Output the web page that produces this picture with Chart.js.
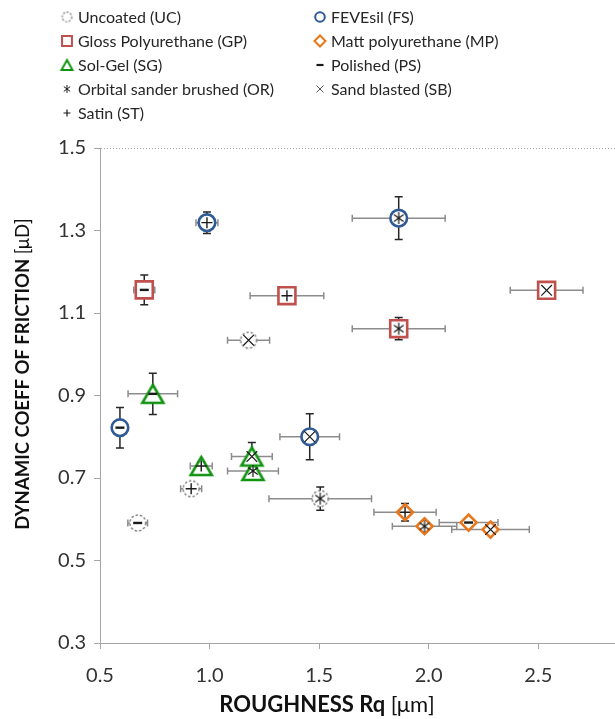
<!DOCTYPE html>
<html>
<head>
<meta charset="utf-8">
<title>Dynamic coefficient of friction vs roughness</title>
<script src="https://cdn.jsdelivr.net/npm/chart.js@4.4.1/dist/chart.umd.min.js"></script>
<style>
  html, body { margin: 0; padding: 0; background: #ffffff; }
  #wrap { width: 615px; height: 719px; }
</style>
</head>
<body>
<div id="wrap"><canvas id="chart" width="615" height="719"></canvas></div>
<script>
// Surface finish of each entry in the coating arrays below
const finishCodes = ['PS', 'ST', 'OR', 'SB'];

// Uncoated (UC)
const ucRq    = [0.672, 0.916, 1.505, 1.178];
const ucMu    = [0.591, 0.674, 0.650, 1.034];
const ucRqErr = [0.045, 0.048, 0.234, 0.096];
const ucMuErr = [0.012, 0.010, 0.028, 0.008];

// FEVEsil (FS)
const fsRq    = [0.591, 0.988, 1.863, 1.457];
const fsMu    = [0.822, 1.319, 1.330, 0.800];
const fsRqErr = [0.020, 0.050, 0.212, 0.136];
const fsMuErr = [0.049, 0.026, 0.052, 0.056];

// Gloss polyurethane (GP)
const gpRq    = [0.702, 1.353, 1.863, 2.538];
const gpMu    = [1.156, 1.142, 1.062, 1.155];
const gpRqErr = [0.048, 0.168, 0.212, 0.166];
const gpMuErr = [0.036, 0.005, 0.027, 0.005];

// Matt polyurethane (MP)
const mpRq    = [2.182, 1.892, 1.981, 2.282];
const mpMu    = [0.592, 0.617, 0.583, 0.575];
const mpRqErr = [0.134, 0.142, 0.147, 0.177];
const mpMuErr = [0.008, 0.021, 0.010, 0.008];

// Sol-gel (SG)
const sgRq    = [0.741, 0.962, 1.198, 1.193];
const sgMu    = [0.904, 0.729, 0.717, 0.752];
const sgRqErr = [0.113, 0.050, 0.116, 0.093];
const sgMuErr = [0.050, 0.010, 0.010, 0.034];

const xTickValues = [0.5, 1.0, 1.5, 2.0, 2.5];
const yTickValues = [0.3, 0.5, 0.7, 0.9, 1.1, 1.3, 1.5];

const FONT = 'Lato, "Open Sans", "Liberation Sans", sans-serif';
const AXIS_GRAY = '#a6a6a6';
const TEXT = '#262626';

// ---- custom marker images ----
function makeCanvas(w, h, draw) {
  const c = document.createElement('canvas');
  c.width = w; c.height = h;
  draw(c.getContext('2d'), w, h);
  return c;
}
function triangleImg(w, lw, color) {
  const h = Math.round(w * 0.88);
  const pad = Math.ceil(lw * 1.6);
  return makeCanvas(w + 2 * pad, h + 2 * pad, (g, cw) => {
    g.beginPath();
    g.moveTo(cw / 2, pad);
    g.lineTo(cw / 2 + w / 2, pad + h);
    g.lineTo(cw / 2 - w / 2, pad + h);
    g.closePath();
    g.fillStyle = '#ffffff'; g.fill();
    g.lineWidth = lw; g.strokeStyle = color; g.stroke();
  });
}
function dashedCircleImg(r, lw, color, dash) {
  const s = Math.ceil(2 * r + lw + 2);
  return makeCanvas(s, s, g => {
    g.beginPath();
    g.arc(s / 2, s / 2, r, 0, Math.PI * 2);
    g.fillStyle = '#ffffff'; g.fill();
    g.setLineDash(dash);
    g.lineWidth = lw; g.strokeStyle = color; g.stroke();
  });
}
function asteriskImg(h, lw) {
  const s = Math.ceil(h + 2);
  return makeCanvas(s, s, g => {
    const c = s / 2, r = h / 2;
    const dx = r * 0.8, dy = r * 0.6;
    g.strokeStyle = '#1a1a1a'; g.lineWidth = lw;
    g.beginPath();
    g.moveTo(c, c - r); g.lineTo(c, c + r);
    g.moveTo(c - dx, c - dy); g.lineTo(c + dx, c + dy);
    g.moveTo(c + dx, c - dy); g.lineTo(c - dx, c + dy);
    g.stroke();
  });
}

const COLORS = {
  UC: '#7a7a7a',
  FS: '#2f5a94',
  GP: '#c0504d',
  MP: '#e8761b',
  SG: '#129412'
};

const ucMarker = dashedCircleImg(8, 1.4, COLORS.UC, [2.4, 2]);
const sgMarker = triangleImg(21, 2.6, COLORS.SG);
const orMarker = asteriskImg(12, 1.2);

function pointsOf(rq, mu, rqErr, muErr) {
  return rq.map((x, i) => ({ x: x, y: mu[i], xErr: rqErr[i], yErr: muErr[i], finish: finishCodes[i] }));
}

const coatingDatasets = [
  { label: 'Uncoated (UC)', data: pointsOf(ucRq, ucMu, ucRqErr, ucMuErr),
    pointStyle: ucMarker, pointRadius: 8, pointBorderWidth: 0,
    pointBackgroundColor: '#fff', pointBorderColor: COLORS.UC },
  { label: 'FEVEsil (FS)', data: pointsOf(fsRq, fsMu, fsRqErr, fsMuErr),
    pointStyle: 'circle', pointRadius: 8.3, pointBorderWidth: 2.6,
    pointBackgroundColor: '#fff', pointBorderColor: COLORS.FS },
  { label: 'Gloss Polyurethane (GP)', data: pointsOf(gpRq, gpMu, gpRqErr, gpMuErr),
    pointStyle: 'rect', pointRadius: 12, pointBorderWidth: 2.6,
    pointBackgroundColor: '#fff', pointBorderColor: COLORS.GP },
  { label: 'Matt polyurethane (MP)', data: pointsOf(mpRq, mpMu, mpRqErr, mpMuErr),
    pointStyle: 'rectRot', pointRadius: 8, pointBorderWidth: 2.6,
    pointBackgroundColor: '#fff', pointBorderColor: COLORS.MP },
  { label: 'Sol-Gel (SG)', data: pointsOf(sgRq, sgMu, sgRqErr, sgMuErr),
    pointStyle: sgMarker, pointRadius: 10, pointBorderWidth: 0,
    pointBackgroundColor: '#fff', pointBorderColor: COLORS.SG }
].map(ds => Object.assign(ds, { errorBars: true, order: 2, showLine: false }));

// Finish symbols are drawn on top of every coating marker
const finishStyles = {
  PS: { label: 'Polished (PS)', pointStyle: 'line', pointRadius: 4.5, pointBorderWidth: 2.4 },
  ST: { label: 'Satin (ST)', pointStyle: 'cross', pointRadius: 5.5, pointBorderWidth: 1.4 },
  OR: { label: 'Orbital sander brushed (OR)', pointStyle: orMarker, pointRadius: 6, pointBorderWidth: 0 },
  SB: { label: 'Sand blasted (SB)', pointStyle: 'crossRot', pointRadius: 7.5, pointBorderWidth: 1.2 }
};
const coatingSeries = [
  [ucRq, ucMu], [fsRq, fsMu], [gpRq, gpMu], [mpRq, mpMu], [sgRq, sgMu]
];
const finishDatasets = finishCodes.map((code, i) => Object.assign({
  data: coatingSeries.map(([rq, mu]) => ({ x: rq[i], y: mu[i] })),
  pointBorderColor: '#1a1a1a', pointBackgroundColor: '#1a1a1a',
  order: 1, showLine: false
}, finishStyles[code]));

// ---- plugins ----
// The plot runs to the right edge of the canvas
const fullWidthPlugin = {
  id: 'fullWidth',
  afterLayout(chart) {
    const x = chart.scales.x;
    const right = chart.width;
    x.right = right;
    x.width = right - x.left;
    chart.chartArea.right = right;
    chart.chartArea.width = right - chart.chartArea.left;
    x.configure();
  }
};

const topGridPlugin = {
  id: 'topGrid',
  beforeDatasetsDraw(chart) {
    const { ctx, chartArea, scales } = chart;
    const yp = scales.y.getPixelForValue(1.5);
    ctx.save();
    ctx.strokeStyle = AXIS_GRAY; ctx.lineWidth = 1;
    ctx.setLineDash([1, 2]);
    ctx.beginPath();
    ctx.moveTo(chartArea.left + 1, yp + 0.5);
    ctx.lineTo(chartArea.right, yp + 0.5);
    ctx.stroke();
    ctx.restore();
  }
};

const errorBarPlugin = {
  id: 'errorBars',
  beforeDatasetsDraw(chart) {
    const { ctx, scales: { x, y } } = chart;
    ctx.save();
    chart.data.datasets.forEach((ds, di) => {
      if (!ds.errorBars || !chart.isDatasetVisible(di)) return;
      ds.data.forEach(p => {
        const px = x.getPixelForValue(p.x), py = y.getPixelForValue(p.y);
        // roughness spread
        const x0 = x.getPixelForValue(p.x - p.xErr), x1 = x.getPixelForValue(p.x + p.xErr);
        ctx.strokeStyle = '#8c8c8c'; ctx.lineWidth = 1.5;
        ctx.beginPath();
        ctx.moveTo(x0, py); ctx.lineTo(x1, py);
        ctx.moveTo(x0, py - 3.5); ctx.lineTo(x0, py + 3.5);
        ctx.moveTo(x1, py - 3.5); ctx.lineTo(x1, py + 3.5);
        ctx.stroke();
        // friction spread
        const y0 = y.getPixelForValue(p.y - p.yErr), y1 = y.getPixelForValue(p.y + p.yErr);
        ctx.strokeStyle = '#262626'; ctx.lineWidth = 1.5;
        ctx.beginPath();
        ctx.moveTo(px, y0); ctx.lineTo(px, y1);
        ctx.moveTo(px - 4, y0); ctx.lineTo(px + 4, y0);
        ctx.moveTo(px - 4, y1); ctx.lineTo(px + 4, y1);
        ctx.stroke();
      });
    });
    ctx.restore();
  }
};

function drawMixed(ctx, parts, cx, cy) {
  let total = 0;
  parts.forEach(p => { ctx.font = p.font; p.w = ctx.measureText(p.text).width; total += p.w; });
  let x = cx - total / 2;
  parts.forEach(p => { ctx.font = p.font; ctx.fillText(p.text, x, cy); x += p.w; });
}

const axisTitlePlugin = {
  id: 'axisTitles',
  afterDraw(chart) {
    const { ctx } = chart;
    ctx.save();
    ctx.fillStyle = '#111111';
    ctx.textBaseline = 'middle';
    ctx.textAlign = 'left';
    drawMixed(ctx, [
      { text: 'ROUGHNESS Rq ', font: 'bold 22px ' + FONT },
      { text: '[\u03bcm]', font: '22px ' + FONT }
    ], 327, 705);
    ctx.translate(23, 374);
    ctx.rotate(-Math.PI / 2);
    drawMixed(ctx, [
      { text: 'DYNAMIC COEFF OF FRICTION ', font: 'bold 18.5px ' + FONT },
      { text: '[\u03bcD]', font: '18.5px ' + FONT }
    ], 0, 0);
    ctx.restore();
  }
};

const legendEntries = [
  { text: 'Uncoated (UC)', col: 0, row: 0, marker: { pointStyle: dashedCircleImg(4.8, 1.2, COLORS.UC, [2, 1.6]), radius: 5, borderWidth: 0 }, color: COLORS.UC },
  { text: 'FEVEsil (FS)', col: 1, row: 0, marker: { pointStyle: 'circle', radius: 4.8, borderWidth: 2 }, color: COLORS.FS },
  { text: 'Gloss Polyurethane (GP)', col: 0, row: 1, marker: { pointStyle: 'rect', radius: 7, borderWidth: 2 }, color: COLORS.GP },
  { text: 'Matt polyurethane (MP)', col: 1, row: 1, marker: { pointStyle: 'rectRot', radius: 5.5, borderWidth: 2 }, color: COLORS.MP },
  { text: 'Sol-Gel (SG)', col: 0, row: 2, marker: { pointStyle: triangleImg(11, 2, COLORS.SG), radius: 6, borderWidth: 0 }, color: COLORS.SG },
  { text: 'Polished (PS)', col: 1, row: 2, marker: { pointStyle: 'line', radius: 3.5, borderWidth: 2.2 }, color: '#1a1a1a' },
  { text: 'Orbital sander brushed (OR)', col: 0, row: 3, marker: { pointStyle: asteriskImg(8, 1), radius: 5, borderWidth: 0 }, color: '#1a1a1a' },
  { text: 'Sand blasted (SB)', col: 1, row: 3, marker: { pointStyle: 'crossRot', radius: 5, borderWidth: 1 }, color: '#555555' },
  { text: 'Satin (ST)', col: 0, row: 4, marker: { pointStyle: 'cross', radius: 3.5, borderWidth: 1.2 }, color: '#1a1a1a' }
];
const legendCols = [67, 320];
const legendRows = [17, 41, 65, 89, 113];

const customLegendPlugin = {
  id: 'customLegend',
  afterDraw(chart) {
    const { ctx } = chart;
    ctx.save();
    legendEntries.forEach(e => {
      const mx = legendCols[e.col], my = legendRows[e.row];
      ctx.fillStyle = '#ffffff';
      ctx.strokeStyle = e.color;
      ctx.lineWidth = e.marker.borderWidth;
      Chart.helpers.drawPoint(ctx, { pointStyle: e.marker.pointStyle, radius: e.marker.radius, rotation: 0, borderWidth: e.marker.borderWidth }, mx, my);
      ctx.fillStyle = TEXT;
      ctx.font = '16px ' + FONT;
      ctx.textAlign = 'left';
      ctx.textBaseline = 'middle';
      ctx.fillText(e.text, mx + 11, my + 1);
    });
    ctx.restore();
  }
};

new Chart(document.getElementById('chart'), {
  type: 'scatter',
  data: { datasets: finishDatasets.concat(coatingDatasets) },
  options: {
    responsive: false,
    devicePixelRatio: 1,
    animation: false,
    events: [],
    layout: { padding: { top: 148, left: 0, right: 0, bottom: 0 } },
    plugins: { legend: { display: false }, tooltip: { enabled: false }, title: { display: false } },
    scales: {
      x: {
        type: 'linear', min: 0.5, max: 2.85,
        afterBuildTicks: s => { s.ticks = xTickValues.map(v => ({ value: v })); },
        afterFit: s => { s.height = 76; },
        ticks: { callback: v => Number(v).toFixed(1), color: '#333333', font: { family: FONT, size: 20 }, padding: 15, maxRotation: 0 },
        grid: { drawOnChartArea: false, tickLength: 6, color: AXIS_GRAY },
        border: { color: AXIS_GRAY, width: 1 }
      },
      y: {
        type: 'linear', min: 0.3, max: 1.5,
        afterBuildTicks: s => { s.ticks = yTickValues.map(v => ({ value: v })); },
        afterFit: s => { s.width = 100; },
        ticks: { callback: v => Number(v).toFixed(1), color: '#333333', font: { family: FONT, size: 20 }, padding: 8 },
        grid: { drawOnChartArea: false, tickLength: 6, color: AXIS_GRAY },
        border: { color: AXIS_GRAY, width: 1 }
      }
    }
  },
  plugins: [fullWidthPlugin, topGridPlugin, errorBarPlugin, axisTitlePlugin, customLegendPlugin]
});
</script>
</body>
</html>
